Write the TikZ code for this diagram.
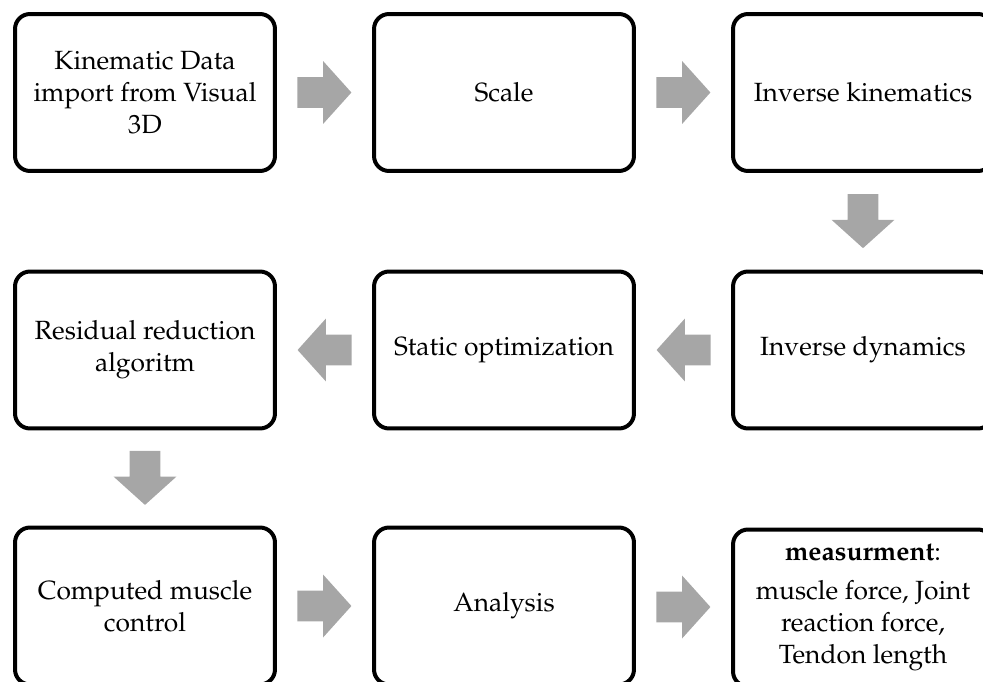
\documentclass[tikz,border=0pt]{standalone}
\usepackage[T1]{fontenc}
\usepackage{mathpazo}
\usetikzlibrary{shapes.arrows,calc}
\colorlet{grisfleche}{black!35}

\begin{document}
\begin{tikzpicture}[x=0.02cm,y=-0.02cm]%
        \useasboundingbox (0,0) rectangle (983,682);%%
        \begin{scope}
        \tikzstyle{every node}=[draw,rounded corners=.3cm,line width=.08cm,minimum width=5.2cm,minimum height=3.14cm,align=center,font=\fontsize{15}{18.2}\selectfont] %%
        \node (kin) at (145,92.5)  {Kinematic Data\\ import from Visual\\ 3D}; %%
        \node (scale) at (504,92.5)  {Scale}; %%
        \node (ik) at (863,92.5)  {Inverse kinematics}; %%
        \node (id) at (863,350)  {Inverse dynamics}; %%
        \node (so) at (504,350)  {Static optimization}; %%
        \node (rra) at (145,350)  {Residual reduction\\ algoritm}; %%
        \node (cmc) at (145,606)  {Computed muscle\\ control}; %%
        \node (ana) at (504,606)  {Analysis}; %%
        \node (mes) at (863,608)  {\textbf{measurment}:\\[4pt] muscle force, Joint\\ reaction force,\\ Tendon length}; %%
        \end{scope}
        \begin{scope}
        \tikzstyle{every node}=[single arrow,fill=grisfleche,inner xsep=0pt,inner ysep=.3cm,minimum height=1.08cm,single arrow head extend=.32cm,single arrow tip angle=96] %%
        \node[xshift=-.14cm] (f1) at ($(kin.east)!.5!(scale.west)$)  {}; %%
        \node[xshift=-.14cm] (f2) at ($(scale.east)!.5!(ik.west)$)  {}; %%
        \node[rotate=-90,xshift=-.14cm] (f3) at ($(ik.south)!.5!(id.north)$)  {}; %%
        \node[rotate=180,xshift=-.14cm] (f4) at ($(id.west)!.5!(so.east)$)  {}; %%
        \node[rotate=180,xshift=-.14cm] (f5) at ($(so.west)!.5!(rra.east)$)  {}; %%
        \node[rotate=-90,xshift=-.14cm] (f6) at ($(rra.south)!.5!(cmc.north)$)  {}; %%
        \node[xshift=-.14cm] (f7) at ($(cmc.east)!.5!(ana.west)$)  {}; %%
        \node[xshift=-.14cm] (f8) at ($(ana.east)!.5!(mes.west)$)  {}; %%
        \end{scope}
\end{tikzpicture}
\end{document}
